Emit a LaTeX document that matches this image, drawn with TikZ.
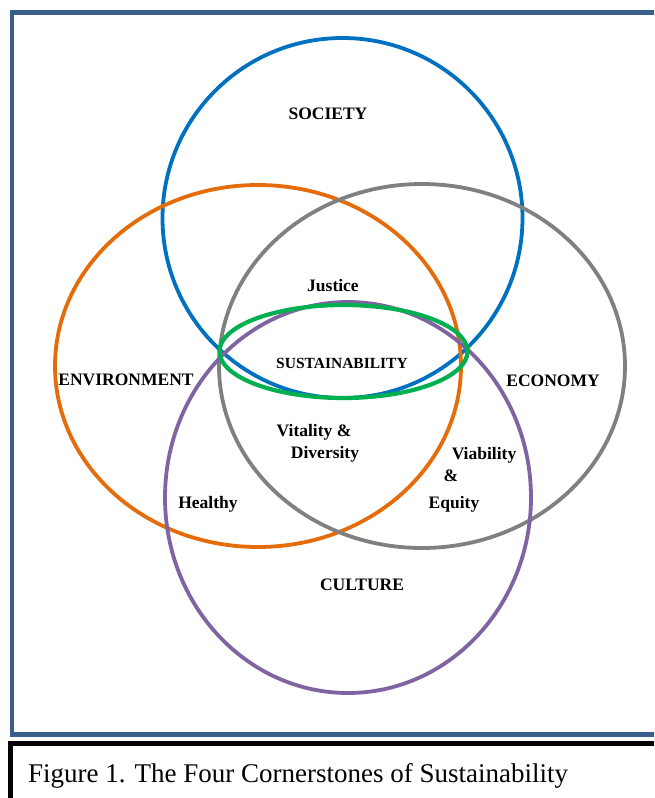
\documentclass[tikz,border=0pt]{standalone}
\usepackage{fontspec}
\setmainfont{Liberation Serif}
\definecolor{framec}{RGB}{58,95,139}
\definecolor{cblue}{RGB}{0,112,192}
\definecolor{corange}{RGB}{228,108,10}
\definecolor{cgray}{RGB}{128,128,128}
\definecolor{cpurple}{RGB}{128,100,162}
\definecolor{cgreen}{RGB}{0,176,80}
\begin{document}
\begin{tikzpicture}[x=1pt,y=-1pt,
  lab/.style={font=\fontsize{17.5}{20}\selectfont\bfseries, inner sep=0pt, anchor=base},
  ring/.style={line width=3.8pt}]
\useasboundingbox (0,0) rectangle (654,798);
\clip (0,0) rectangle (654,798);
\fill[white] (0,0) rectangle (654,798);
% frames
\draw[framec, line width=4.5pt] (665,12.5) -- (12,12.5) -- (12,734.5) -- (665,734.5);
\draw[black, line width=5pt] (665,743.5) -- (10,743.5) -- (10,810);
% circles
\draw[ring, cblue]   (342.5,218) ellipse [x radius=180pt, y radius=180pt];
\draw[ring, corange] (258,366) ellipse [x radius=203pt, y radius=181pt];
\draw[ring, cgray]   (422,366) ellipse [x radius=203pt, y radius=182pt];
\draw[ring, cpurple] (348,497.5) ellipse [x radius=183pt, y radius=195.5pt];
\draw[line width=4.2pt, cgreen] (343.5,351.5) ellipse [x radius=124pt, y radius=46.5pt];
% labels
\node[lab] (society) at (328,119) {SOCIETY};
\node[lab] (justice) at (333,291) {Justice};
\node[lab, font=\fontsize{15.5}{18}\selectfont\bfseries] (sust) at (342,368) {SUSTAINABILITY};
\node[lab] (env) at (126,385) {ENVIRONMENT};
\node[lab] (eco) at (553,386) {ECONOMY};
\node[lab] (vit) at (314,436) {Vitality \&};
\node[lab] (div) at (325,458) {Diversity};
\node[lab] (via) at (484,459) {Viability};
\node[lab] (amp) at (451,481) {\&};
\node[lab] (equ) at (454,508) {Equity};
\node[lab] (hea) at (208,508) {Healthy};
\node[lab] (cul) at (362,590) {CULTURE};
\node[anchor=base west, inner sep=0pt, font=\fontsize{27}{30}\selectfont] (cap) at (28,782) {Figure 1. The Four Cornerstones of Sustainability};
\end{tikzpicture}
\end{document}
